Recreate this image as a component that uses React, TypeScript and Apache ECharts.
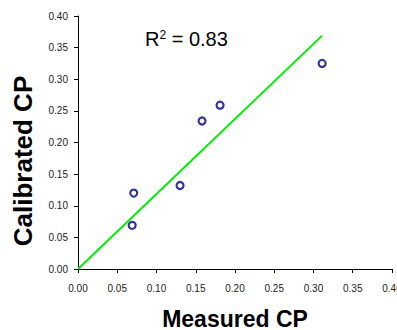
import React, { useEffect, useRef } from "react";
import * as echarts from "echarts";

const measured = [0.069, 0.071, 0.130, 0.158, 0.181, 0.311];
const calibrated = [0.069, 0.120, 0.132, 0.234, 0.259, 0.325];
const trendX = [0, 0.311];
const trendY = [0, 0.369];
const r2Text = "0.83";
const xTitle = "Measured CP";
const yTitle = "Calibrated CP";

const FONT = "Liberation Sans, Arial, sans-serif";

export default function App() {
  const ref = useRef<HTMLDivElement>(null);
  useEffect(() => {
    document.body.style.margin = "0";
    document.body.style.overflow = "hidden";
    document.documentElement.style.overflow = "hidden";
    if (!ref.current) return;
    const chart = echarts.init(ref.current, undefined, { renderer: "svg", width: 397, height: 330 });
    const axisCommon = {
      type: "value" as const,
      min: 0,
      max: 0.4,
      interval: 0.05,
      splitLine: { show: false },
      axisLine: { show: true, lineStyle: { color: "#000", width: 1 } },
      axisTick: { show: true, length: 4, lineStyle: { color: "#000" } },
    };
    chart.setOption({
      animation: false,
      grid: { left: 78, right: 5, top: 16, bottom: 61, containLabel: false, outerBoundsMode: "none" },
      xAxis: {
        ...axisCommon,
        name: xTitle,
        nameLocation: "middle",
        nameGap: 38,
        nameTextStyle: { fontFamily: FONT, fontWeight: "bold", fontSize: 23, color: "#000" },
        axisLabel: {
          fontFamily: FONT,
          fontSize: 10,
          color: "#222",
          margin: 14,
          formatter: (v: number) => v.toFixed(2),
        },
      },
      yAxis: {
        ...axisCommon,
        axisLabel: {
          fontFamily: FONT,
          fontSize: 10,
          color: "#222",
          margin: 10,
          formatter: (v: number) => v.toFixed(2),
        },
      },
      series: [
        {
          type: "line",
          data: trendX.map((x, i) => [x, trendY[i]]),
          symbol: "none",
          lineStyle: { color: "#00ee00", width: 2 },
          z: 2,
        },
        {
          type: "scatter",
          data: measured.map((x, i) => [x, calibrated[i]]),
          symbol: "circle",
          symbolSize: 7,
          itemStyle: { color: "#fff", borderColor: "#000080", borderWidth: 2.2 },
          z: 3,
        },
      ],
      graphic: [
        {
          type: "text",
          x: 23,
          y: 161,
          rotation: Math.PI / 2,
          style: {
            text: yTitle,
            fontFamily: FONT,
            fontWeight: "bold",
            fontSize: 26,
            fill: "#000",
            align: "center",
            verticalAlign: "middle",
          },
        },
        {
          type: "text",
          left: 145,
          top: 29,
          style: {
            text: "{a|R}{b|2}{a| = " + r2Text + "}",
            rich: {
              a: { fontFamily: FONT, fontSize: 20, fill: "#000", color: "#000" },
              b: { fontFamily: FONT, fontSize: 12, fill: "#000", color: "#000", verticalAlign: "top", padding: [0, 0, 8, 0] },
            },
          },
        },
      ],
    });
    return () => chart.dispose();
  }, []);
  return <div ref={ref} style={{ width: 397, height: 330, background: "#fff" }} />;
}
